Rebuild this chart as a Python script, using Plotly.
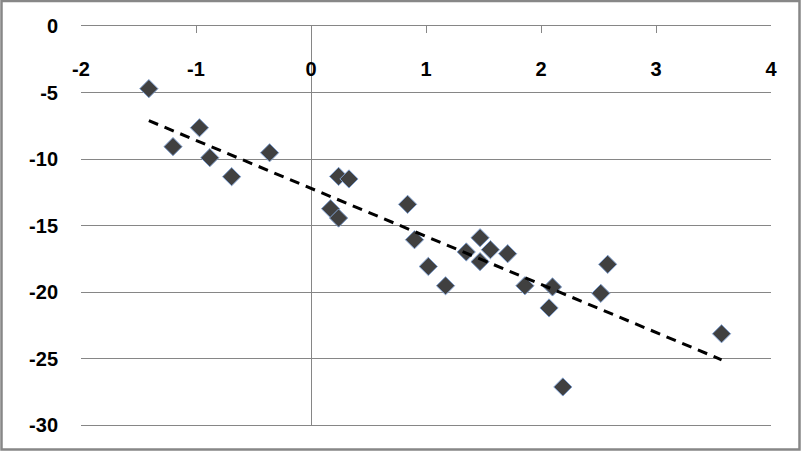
import numpy as np
import plotly.graph_objects as go

x_vals = [-1.41, -1.20, -0.97, -0.88, -0.69, -0.36, 0.24, 0.33, 0.17, 0.24,
          0.84, 0.90, 1.02, 1.17, 1.35, 1.47, 1.47, 1.56, 1.71, 1.86,
          2.10, 2.07, 2.19, 2.52, 2.58, 3.57]
y_vals = [-4.71, -9.07, -7.65, -9.90, -11.33, -9.53, -11.31, -11.50, -13.74, -14.44,
          -13.41, -16.07, -18.08, -19.53, -16.99, -15.92, -17.72, -16.82, -17.12, -19.53,
          -19.62, -21.20, -27.14, -20.10, -17.92, -23.14]

x_ticks = [-2, -1, 0, 1, 2, 3, 4]
y_ticks = [0, -5, -10, -15, -20, -25, -30]

slope, intercept = np.polyfit(x_vals, y_vals, 1)
trend_x = [min(x_vals), max(x_vals)]
trend_y = [slope * v + intercept for v in trend_x]

GRID = "#868686"
FONT = dict(family="Liberation Sans", size=20, color="#000000", weight="bold")

fig = go.Figure()
fig.add_trace(go.Scatter(
    x=x_vals, y=y_vals, mode="markers",
    marker=dict(symbol="diamond", size=14, color="#404040",
                line=dict(color="#7f9fcf", width=1)),
    showlegend=False, hoverinfo="skip"))
fig.add_trace(go.Scatter(
    x=trend_x, y=trend_y, mode="lines",
    line=dict(color="#000000", width=3, dash="10px,7px"),
    showlegend=False, hoverinfo="skip"))
# invisible carrier so the label axis is drawn
fig.add_trace(go.Scatter(
    x=x_ticks, y=[None] * len(x_ticks), xaxis="x2", mode="markers",
    showlegend=False, hoverinfo="skip"))

W, H = 801, 451
ml, mr, mt, mb = 81, 30, 26, 26
pw, ph = W - ml - mr, H - mt - mb
label_line_px = 55  # pixel row of the virtual line above the x labels

fig.update_layout(
    width=W, height=H,
    margin=dict(l=ml, r=mr, t=mt, b=mb, pad=0),
    paper_bgcolor="#ffffff", plot_bgcolor="#ffffff",
    font=FONT,
    xaxis=dict(range=[-2, 4], side="top", tickvals=x_ticks,
               showticklabels=False, automargin=False,
               showgrid=False, showline=True, mirror=True,
               linecolor=GRID, linewidth=1,
               ticks="inside", ticklen=7, tickcolor=GRID, tickwidth=1,
               zeroline=True, zerolinecolor=GRID, zerolinewidth=1,
               fixedrange=True),
    xaxis2=dict(range=[-2, 4], overlaying="x", anchor="free",
                position=(H - mb - label_line_px) / ph, side="bottom",
                tickvals=x_ticks, ticktext=[str(t) for t in x_ticks],
                showgrid=False, showline=False, zeroline=False, ticks="",
                automargin=False, tickfont=FONT, fixedrange=True),
    yaxis=dict(range=[-30, 0], tickvals=y_ticks,
               ticktext=[str(t) for t in y_ticks],
               showgrid=True, gridcolor=GRID, gridwidth=1,
               zeroline=False, showline=False, ticks="",
               automargin=False,
               ticklabelstandoff=22, tickfont=FONT, fixedrange=True),
    shapes=[dict(type="rect", xref="paper", yref="paper",
                 x0=(1.5 - ml) / pw, x1=(W - 1.5 - ml) / pw,
                 y0=-(mb - 1.5) / ph, y1=1 + (mt - 1) / ph,
                 line=dict(color="#878787", width=2.5), layer="above")],
)

fig.write_html(
    "out.html",
    config={"displayModeBar": False},
    post_script="document.body.style.margin='0';document.body.style.overflow='hidden';",
)
